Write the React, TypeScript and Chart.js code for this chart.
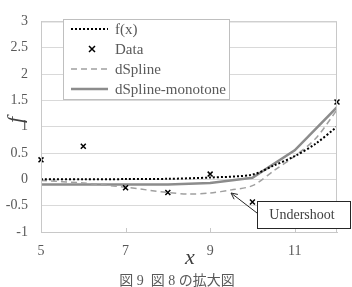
import React, { useEffect, useRef } from "react";
import { Chart, registerables } from "chart.js";

Chart.register(...registerables);

const xTicks = [5, 7, 9, 11];
const yTicks = [-1, -0.5, 0, 0.5, 1, 1.5, 2, 2.5, 3];

const dataX = [5, 6, 7, 8, 9, 10, 12];
const dataY = [0.37, 0.63, -0.16, -0.25, 0.1, -0.43, 1.47];

const fX = [5, 6, 7, 8, 9, 10, 10.5, 11, 11.5, 12];
const fY = [0, 0, 0.005, 0.01, 0.035, 0.09, 0.26, 0.44, 0.68, 1.0];

const splineX = [5, 6, 7, 8, 8.5, 9, 9.5, 10, 10.5, 11, 11.5, 12];
const splineY = [-0.02, -0.07, -0.15, -0.25, -0.28, -0.26, -0.2, -0.12, 0.16, 0.44, 0.78, 1.32];

const monoX = [5, 6, 7, 8, 9, 10, 11, 12];
const monoY = [-0.1, -0.1, -0.1, -0.1, -0.07, 0.03, 0.55, 1.37];

const legendLabels = ["f(x)", "Data", "dSpline", "dSpline-monotone"];
const annotationText = "Undershoot";
const xTitle = "x";
const yTitle = "f";
const caption = "図 9  図 8 の拡大図";

const SERIF = "Liberation Serif";
const TEXT = "#595959";

const zip = (xs: number[], ys: number[]) => xs.map((x, i) => ({ x, y: ys[i] }));

const overlay = {
  id: "overlay",
  afterDraw(chart: any) {
    const { ctx, chartArea } = chart;
    const { left, right, top, bottom } = chartArea;
    const xs = chart.scales.x;
    ctx.save();
    ctx.strokeStyle = "#c8c8c8";
    ctx.lineWidth = 1;
    ctx.strokeRect(left + 0.5, top + 0.5, right - left - 1, bottom - top);
    xTicks.forEach((v) => {
      const px = Math.round(xs.getPixelForValue(v)) + 0.5;
      ctx.beginPath();
      ctx.moveTo(px, bottom);
      ctx.lineTo(px, bottom - 4);
      ctx.stroke();
    });

    const lx = 63, ly = 19, lw = 166, lh = 80;
    ctx.fillStyle = "#ffffff";
    ctx.fillRect(lx, ly, lw, lh);
    ctx.strokeStyle = "#bfbfbf";
    ctx.strokeRect(lx + 0.5, ly + 0.5, lw, lh);
    const rows = [29, 49, 69, 89];
    ctx.font = `15px "${SERIF}", serif`;
    ctx.textBaseline = "middle";
    ctx.textAlign = "left";
    rows.forEach((ry, i) => {
      ctx.save();
      if (i === 0) {
        ctx.strokeStyle = "#000";
        ctx.lineWidth = 2;
        ctx.setLineDash([2, 2]);
        ctx.beginPath();
        ctx.moveTo(71, ry);
        ctx.lineTo(108, ry);
        ctx.stroke();
      } else if (i === 1) {
        ctx.strokeStyle = "#000";
        ctx.lineWidth = 1.5;
        const cx = 92, r = 3;
        ctx.beginPath();
        ctx.moveTo(cx - r, ry - r);
        ctx.lineTo(cx + r, ry + r);
        ctx.moveTo(cx + r, ry - r);
        ctx.lineTo(cx - r, ry + r);
        ctx.stroke();
      } else if (i === 2) {
        ctx.strokeStyle = "#a0a0a0";
        ctx.lineWidth = 1.5;
        ctx.setLineDash([6, 4]);
        ctx.beginPath();
        ctx.moveTo(71, ry);
        ctx.lineTo(108, ry);
        ctx.stroke();
      } else {
        ctx.strokeStyle = "#8c8c8c";
        ctx.lineWidth = 2.5;
        ctx.beginPath();
        ctx.moveTo(71, ry);
        ctx.lineTo(108, ry);
        ctx.stroke();
      }
      ctx.restore();
      ctx.fillStyle = TEXT;
      ctx.fillText(legendLabels[i], 115, ry + 1);
    });

    ctx.strokeStyle = "#262626";
    ctx.lineWidth = 1;
    ctx.fillStyle = "#fff";
    ctx.fillRect(257, 201, 93, 27);
    ctx.strokeRect(257.5, 201.5, 93, 27);
    ctx.fillStyle = "#404040";
    ctx.textAlign = "center";
    ctx.font = `14px "${SERIF}", serif`;
    ctx.fillText(annotationText, 302, 215);
    const ax0 = 257, ay0 = 213, ax1 = 231, ay1 = 193;
    ctx.beginPath();
    ctx.moveTo(ax0, ay0);
    ctx.lineTo(ax1, ay1);
    const ang = Math.atan2(ay1 - ay0, ax1 - ax0);
    const hl = 7;
    ctx.moveTo(ax1 - hl * Math.cos(ang - 0.45), ay1 - hl * Math.sin(ang - 0.45));
    ctx.lineTo(ax1, ay1);
    ctx.lineTo(ax1 - hl * Math.cos(ang + 0.45), ay1 - hl * Math.sin(ang + 0.45));
    ctx.stroke();

    ctx.fillStyle = "#404040";
    ctx.font = `italic 22px "${SERIF}", serif`;
    ctx.textAlign = "center";
    ctx.textBaseline = "middle";
    ctx.fillText(xTitle, 190, 258);
    ctx.save();
    ctx.translate(16, 120);
    ctx.rotate(-Math.PI / 2);
    ctx.fillText(yTitle, 0, 0);
    ctx.restore();

    ctx.font = `14px "${SERIF}", "Noto Sans CJK JP", serif`;
    ctx.fillStyle = "#595959";
    ctx.fillText(caption, 177, 281);
    ctx.restore();
  },
};

export default function App() {
  const ref = useRef<HTMLCanvasElement | null>(null);
  useEffect(() => {
    if (!ref.current) return;
    const chart = new Chart(ref.current, {
      type: "line",
      data: {
        datasets: [
          {
            label: legendLabels[1],
            data: zip(dataX, dataY),
            showLine: false,
            pointStyle: "crossRot",
            pointRadius: 3.5,
            pointBorderColor: "#000",
            pointBorderWidth: 1.5,
            borderColor: "#000",
            clip: false,
            order: 0,
          },
          {
            label: legendLabels[0],
            data: zip(fX, fY),
            borderColor: "#000",
            borderWidth: 2,
            borderDash: [2, 2],
            pointRadius: 0,
            tension: 0.3,
            order: 1,
          },
          {
            label: legendLabels[2],
            data: zip(splineX, splineY),
            borderColor: "#a0a0a0",
            borderWidth: 1.5,
            borderDash: [6, 4],
            pointRadius: 0,
            tension: 0.3,
            order: 2,
          },
          {
            label: legendLabels[3],
            data: zip(monoX, monoY),
            borderColor: "#8c8c8c",
            borderWidth: 2.5,
            pointRadius: 0,
            tension: 0,
            order: 3,
          },
        ],
      },
      options: {
        responsive: false,
        animation: false,
        layout: { padding: { top: 11, right: 15, left: 0, bottom: 0 } },
        plugins: { legend: { display: false }, tooltip: { enabled: false } },
        scales: {
          x: {
            type: "linear",
            min: 5,
            max: 12,
            afterBuildTicks: (s: any) => {
              s.ticks = xTicks.map((v) => ({ value: v }));
            },
            afterFit: (s: any) => {
              s.height = 55;
            },
            grid: { display: false, drawTicks: false },
            border: { color: "#c8c8c8" },
            ticks: {
              padding: 11,
              color: TEXT,
              font: { family: SERIF, size: 14 },
              maxRotation: 0,
              callback: (v: any) => String(v),
            },
          },
          y: {
            min: -1,
            max: 3,
            afterBuildTicks: (s: any) => {
              s.ticks = yTicks.map((v) => ({ value: v }));
            },
            afterFit: (s: any) => {
              s.width = 41;
            },
            grid: { color: "#d9d9d9", drawTicks: false },
            border: { color: "#c8c8c8" },
            ticks: {
              padding: 13,
              color: TEXT,
              font: { family: SERIF, size: 14 },
              callback: (v: any) => String(v),
            },
          },
        },
      },
      plugins: [overlay],
    } as any);
    return () => chart.destroy();
  }, []);
  return (
    <div style={{ position: "fixed", left: 0, top: 0, width: 352, height: 287, background: "#fff" }}>
      <canvas ref={ref} width={352} height={287} />
    </div>
  );
}
